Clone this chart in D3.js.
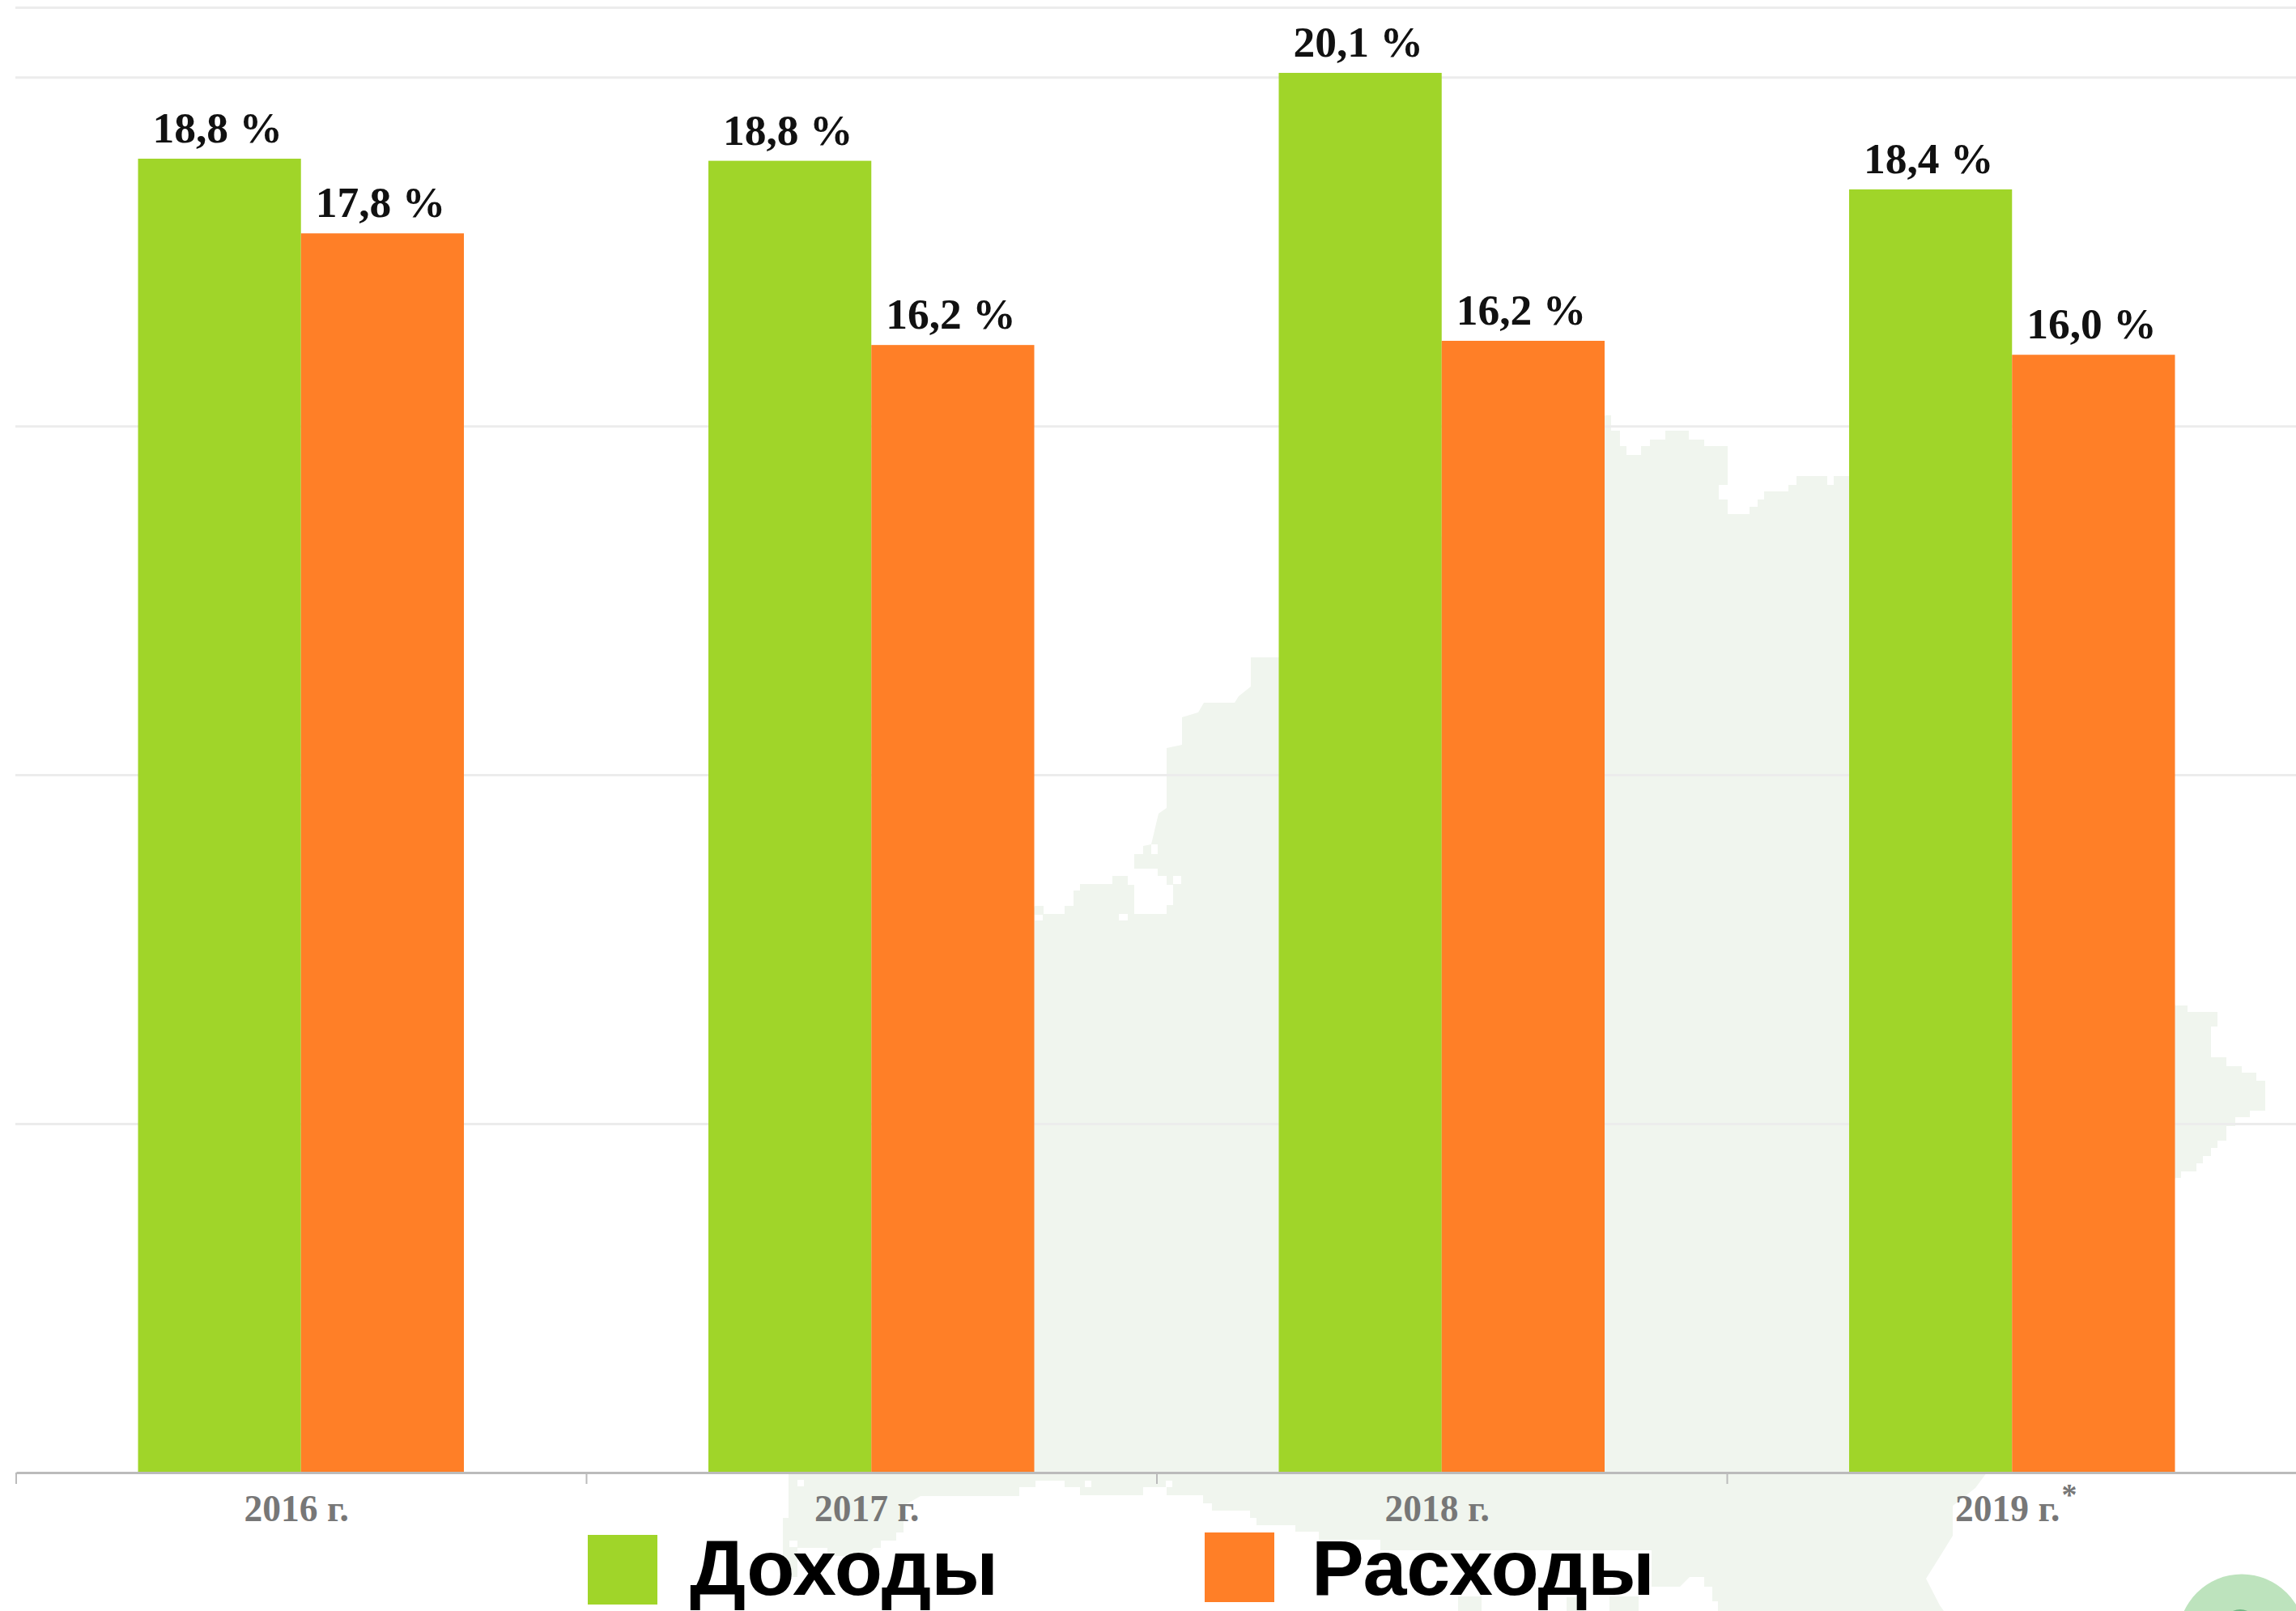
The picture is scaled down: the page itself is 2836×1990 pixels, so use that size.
<!DOCTYPE html>
<html>
<head>
<meta charset="utf-8">
<script src="https://cdnjs.cloudflare.com/ajax/libs/d3/7.8.5/d3.min.js"></script>
<style>
  html, body { margin: 0; padding: 0; background: #fff; overflow: hidden; }
  svg { display: block; }
</style>
</head>
<body>
<div class="chart"></div>
<script>
var years = ["2016 г.", "2017 г.", "2018 г.", "2019 г."];
var seriesNames = ["Доходы", "Расходы"];
var income = [18.83, 18.8, 20.06, 18.39];
var expenses = [17.76, 16.16, 16.22, 16.02];
var gridValues = [5, 10, 15, 20, 21];

var colors = ["#a0d529", "#ff7f27"];

var width = 2836;
var height = 1990;
var axisY = 1819;

// Pale map silhouette behind the bars
var mapOutline = [[1580,812],[1545,812],[1545,848],[1530,860],[1525,868],[1487,868],[1480,880],[1460,886],[1460,920],[1441,924],[1441,998],[1431,1005],[1422,1043],[1412,1045],[1412,1055],[1401,1055],[1401,1073],[1430,1073],[1430,1082],[1441,1082],[1441,1093],[1449,1093],[1449,1118],[1441,1118],[1441,1129],[1401,1129],[1401,1093],[1393,1093],[1393,1082],[1374,1082],[1374,1092],[1334,1092],[1334,1100],[1326,1100],[1326,1119],[1315,1119],[1315,1129],[1289,1129],[1289,1119],[1278,1119],
  [1100,1500],[974,1815],[974,1875],[967,1875],[967,1948],[985,1948],[985,1912],[1022,1912],[1022,1922],[1070,1922],[1079,1912],[1088,1912],[1088,1903],[1107,1903],[1107,1893],[1116,1893],[1116,1860],[1137,1848],
  [1259,1848],[1259,1837],[1279,1837],[1279,1829],[1315,1829],[1315,1837],[1334,1837],[1334,1847],[1412,1847],[1412,1837],[1441,1837],[1441,1847],[1486,1847],[1486,1857],[1497,1857],[1497,1866],[1544,1866],[1544,1875],[1552,1875],[1552,1884],[1600,1884],[1600,1892],[1629,1892],[1629,1902],[1705,1902],[1705,1915],[2040,1915],[2040,1960],[2075,1960],[2087,1948],[2105,1948],[2105,1960],[2115,1960],[2115,1978],[2122,1978],[2122,1990],
  [2401,1990],[2396,1983],[2379,1950],[2396,1923],[2412,1897],[2412,1860],[2440,1838],[2457,1815],
  [2600,1700],[2687,1455],[2694,1455],[2694,1447],[2713,1447],[2713,1437],[2721,1437],[2721,1428],[2731,1428],[2731,1418],[2739,1418],[2739,1409],[2750,1409],[2750,1391],[2761,1391],[2761,1380],[2779,1380],[2779,1372],[2798,1372],[2798,1335],[2787,1335],[2787,1325],[2769,1325],[2769,1317],[2750,1317],[2750,1306],[2731,1306],[2731,1268],[2739,1268],[2739,1250],[2702,1250],[2702,1242],[2687,1242],
  [2284,588],[2265,588],[2265,599],[2257,599],[2257,588],[2219,588],[2219,599],[2209,599],[2209,607],[2179,607],[2179,617],[2171,617],[2171,626],[2161,626],[2161,635],[2134,635],[2134,617],[2123,617],[2123,599],[2134,599],[2134,551],[2105,551],[2105,543],[2086,543],[2086,532],[2057,532],[2057,543],[2038,543],[2038,551],[2027,551],[2027,562],[2009,562],[2009,551],[2001,551],[2001,532],[1990,532],[1990,513],[1983,513]];

var mapBits = [
  [[1801,1972],[1830,1972],[1830,1990],[1801,1990]],
  [[1935,1973],[1957,1973],[1957,1990],[1935,1990]],
  [[1988,1972],[2024,1972],[2024,1990],[1988,1990]]
];
var mapHoles = [[1382,1129,11,8],[1278,1130,10,7],[1422,1043,8,12],[1449,1082,10,10],[985,1828,8,8],[1340,1829,8,8],[1440,1829,8,8],[975,1903,10,8]];

// Add svg to DOM
var svg = d3.select(".chart")
            .append("svg")
              .attr("width", width)
              .attr("height", height);

// Background map
var outline = d3.line();

svg.selectAll("path.map")
  .data([mapOutline].concat(mapBits))
  .enter()
  .append("path")
  .attr("class", "map")
  .attr("d", function(d) { return outline(d) + "Z"; })
  .attr("fill", "#f0f5ee");

svg.selectAll("rect.hole")
  .data(mapHoles)
  .enter()
  .append("rect")
  .attr("class", "hole")
  .attr("x", function(d) { return d[0]; })
  .attr("y", function(d) { return d[1]; })
  .attr("width", function(d) { return d[2]; })
  .attr("height", function(d) { return d[3]; })
  .attr("fill", "#fff");

// Green badge cut off by the bottom right corner
svg.append("circle")
  .attr("cx", 2769).attr("cy", 2023).attr("r", 78.5)
  .attr("fill", "#bde3bd");
svg.append("circle")
  .attr("cx", 2767).attr("cy", 2010).attr("r", 22)
  .attr("fill", "#6fb784");

// Scales
var xScale = d3.scaleBand()
               .domain(years)
               .range([20, 2838]);

var groupScale = d3.scaleBand()
                   .domain(seriesNames)
                   .range([150.5, 553]);

var yScale = d3.scaleLinear()
               .domain([0, 21])
               .range([axisY, 9]);

// Gridlines
var grid = svg.append("g")
  .attr("transform", "translate(19,0)")
  .call(d3.axisLeft(yScale).tickValues(gridValues).tickSize(-(width - 19)).tickFormat(""));
grid.select(".domain").remove();
grid.selectAll("line")
  .attr("stroke", "#ececec")
  .attr("stroke-width", 3);

// Adding the bars
var groups = svg.selectAll("g.year")
  .data(years)
  .enter()
  .append("g")
  .attr("class", "year")
  .attr("transform", function(d) { return "translate(" + xScale(d) + ",0)"; });

var rows = [income, expenses];
var comma = d3.formatLocale({ decimal: ",", thousands: " ", grouping: [3], currency: ["", ""] }).format(".1f");

seriesNames.forEach(function(name, s) {
  groups.append("rect")
    .attr("x", groupScale(name))
    .attr("y", function(d, i) { return yScale(rows[s][i]); })
    .attr("width", groupScale.bandwidth())
    .attr("height", function(d, i) { return axisY - yScale(rows[s][i]); })
    .attr("fill", colors[s]);

  // Adding labels
  groups.append("text")
    .text(function(d, i) { return comma(rows[s][i]) + " %"; })
    .attr("x", groupScale(name) + groupScale.bandwidth() / 2 - 2.5)
    .attr("y", function(d, i) { return yScale(rows[s][i]) - 20; })
    .attr("font-family", "'Liberation Serif', serif")
    .attr("font-weight", "bold")
    .attr("font-size", "53.5px")
    .attr("fill", "#111")
    .attr("text-anchor", "middle");
});

// Bottom axis, ticks sit between the years
var xAxis = svg.append("g")
  .attr("transform", "translate(0," + axisY + ")")
  .call(d3.axisBottom(xScale).tickSize(0).tickPadding(28));
xAxis.select(".domain")
  .attr("stroke", "#bbb")
  .attr("stroke-width", 3);
xAxis.selectAll("text")
  .attr("dx", -6)
  .attr("font-family", "'Liberation Serif', serif")
  .attr("font-weight", "bold")
  .attr("font-size", "45.5px")
  .attr("fill", "#777");

xAxis.selectAll("line.edge")
  .data(years)
  .enter()
  .append("line")
  .attr("class", "edge")
  .attr("x1", function(d) { return xScale(d); })
  .attr("x2", function(d) { return xScale(d); })
  .attr("y1", 0)
  .attr("y2", 14)
  .attr("stroke", "#bbb")
  .attr("stroke-width", 2);

// Footnote mark on the last year
svg.append("text")
  .text("*")
  .attr("x", 2556)
  .attr("y", 1859)
  .attr("font-family", "'Liberation Serif', serif")
  .attr("font-weight", "bold")
  .attr("font-size", "38px")
  .attr("fill", "#777")
  .attr("text-anchor", "middle");

// Legend
var legendX = [726, 1488];
var legendY = [1896, 1893];
var legendText = [852, 1620];

svg.selectAll("rect.swatch")
  .data(seriesNames)
  .enter()
  .append("rect")
  .attr("class", "swatch")
  .attr("x", function(d, i) { return legendX[i]; })
  .attr("y", function(d, i) { return legendY[i]; })
  .attr("width", 86)
  .attr("height", 86)
  .attr("fill", function(d, i) { return colors[i]; });

svg.selectAll("text.legend")
  .data(seriesNames)
  .enter()
  .append("text")
  .attr("class", "legend")
  .text(function(d) { return d; })
  .attr("x", function(d, i) { return legendText[i]; })
  .attr("y", 1970)
  .attr("font-family", "'Liberation Sans', sans-serif")
  .attr("font-weight", "bold")
  .attr("font-size", "97px")
  .attr("fill", "#000");
</script>
</body>
</html>
